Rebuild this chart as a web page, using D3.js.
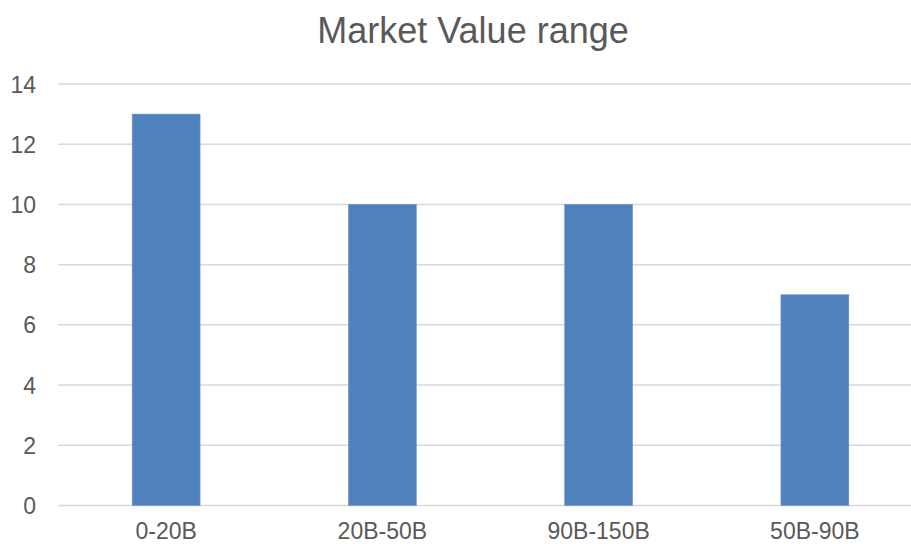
<!DOCTYPE html>
<html><head><meta charset="utf-8">
<script src="https://cdn.jsdelivr.net/npm/d3@7"></script>
<style>html,body{margin:0;padding:0;background:#fff;overflow:hidden}</style>
</head><body>
<svg id="c" width="911" height="544"></svg>
<script>
const categories = ["0-20B", "20B-50B", "90B-150B", "50B-90B"];
const values = [13, 10, 10, 7];
const yTicks = [0, 2, 4, 6, 8, 10, 12, 14];
const title = "Market Value range";

const svg = d3.select("#c");
const font = "'Liberation Sans', Arial, sans-serif";
const m = {left: 58, right: 923, top: 84, bottom: 505.5};

const x = d3.scaleBand().domain(categories).range([m.left, m.right])
  .paddingInner(0.686).paddingOuter(0.343);
const y = d3.scaleLinear().domain([0, 14]).range([m.bottom, m.top]);

svg.append("rect").attr("width", 911).attr("height", 544).attr("fill", "#fff");

svg.append("g").selectAll("line").data(yTicks).join("line")
  .attr("x1", m.left).attr("x2", m.right)
  .attr("y1", d => y(d)).attr("y2", d => y(d))
  .attr("stroke", "#d9d9d9").attr("stroke-width", 1.5);

svg.append("g").selectAll("rect").data(values).join("rect")
  .attr("x", (d, i) => x(categories[i]))
  .attr("width", x.bandwidth())
  .attr("y", d => y(d))
  .attr("height", d => y(0) - y(d))
  .attr("fill", "#4f81bd")
  .attr("stroke", "#6f97c9").attr("stroke-width", 0.6);

svg.append("g").selectAll("text").data(yTicks).join("text")
  .attr("x", 36).attr("y", d => y(d) + 8.5)
  .attr("text-anchor", "end")
  .attr("font-family", font).attr("font-size", 23).attr("fill", "#595959")
  .text(d => d);

svg.append("g").selectAll("text").data(categories).join("text")
  .attr("x", d => x(d) + x.bandwidth() / 2).attr("y", 539)
  .attr("text-anchor", "middle")
  .attr("font-family", font).attr("font-size", 23).attr("fill", "#595959")
  .text(d => d);

svg.append("text").attr("x", 473).attr("y", 43)
  .attr("text-anchor", "middle")
  .attr("font-family", font).attr("font-size", 36).attr("fill", "#595959")
  .text(title);
</script>
</body></html>
